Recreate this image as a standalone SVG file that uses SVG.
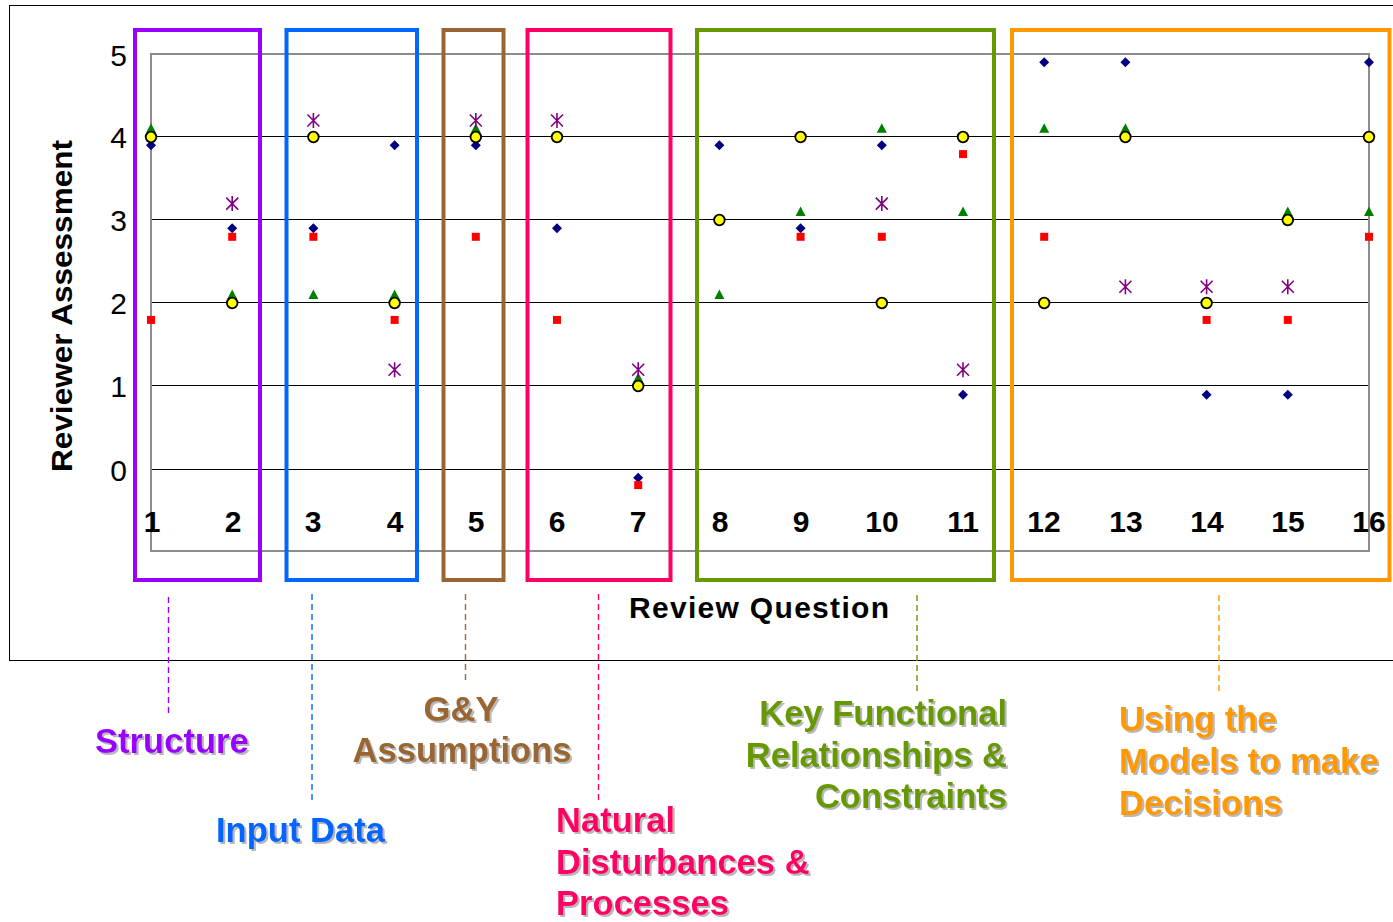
<svg xmlns="http://www.w3.org/2000/svg" xmlns:xlink="http://www.w3.org/1999/xlink" width="1393" height="922" viewBox="0 0 1393 922">
  <style>
    .axis { font-family: "Liberation Sans", Arial, sans-serif; fill: #000; }
    .tick { font-size: 30px; text-anchor: end; }
    .cat { font-size: 30px; font-weight: bold; text-anchor: middle; }
    .title { font-size: 30px; font-weight: bold; }
    .grid { stroke: #000; stroke-width: 1; }
    .plot { fill: none; stroke: #8c8c8c; stroke-width: 2; }
    .box { fill: none; stroke-width: 4; }
    .lead { fill: none; stroke-width: 1.4; stroke-dasharray: 6 4; }
    .lbl { font-family: "Liberation Sans", Arial, sans-serif; font-size: 34.6px; font-weight: bold; filter: url(#shadow); }
    .purple { stroke: #9900ff; fill: #9900ff; }
    .blue { stroke: #0066ff; fill: #0066ff; }
    .brown { stroke: #996633; fill: #996633; }
    .pink { stroke: #ff0066; fill: #ff0066; }
    .green { stroke: #669900; fill: #669900; }
    .orange { stroke: #ff9900; fill: #ff9900; }
    .box.purple, .box.blue, .box.brown, .box.pink, .box.green, .box.orange,
    .lead.purple, .lead.blue, .lead.brown, .lead.pink, .lead.green, .lead.orange { fill: none; }
    text.purple, text.blue, text.brown, text.pink, text.green, text.orange { stroke: none; }
  </style>
  <defs>
    <filter id="shadow" x="-10%" y="-20%" width="130%" height="160%">
      <feDropShadow dx="2" dy="2" stdDeviation="0.7" flood-color="#9a9a9a" flood-opacity="0.7"/>
    </filter>
    <polygon id="dia" points="0,-5 5,0 0,5 -5,0" fill="#000080"/>
    <rect id="sq" x="-4" y="-4" width="8" height="8" fill="#ff0000"/>
    <polygon id="tri" points="0,-5.5 5,4 -5,4" fill="#008000"/>
    <path id="ast" d="M-6,-6 L6,6 M-6,6 L6,-6 M0,-7.5 L0,7.5" stroke="#800080" stroke-width="1.6" fill="none"/>
    <circle id="dot" r="5.3" fill="#ffff00" stroke="#000" stroke-width="1.8"/>
  </defs>

  <rect width="1393" height="922" fill="#fff"/>

  <!-- chart frame -->
  <rect x="9.5" y="5.5" width="1400" height="655" fill="none" stroke="#000" stroke-width="1"/>

  <!-- gridlines and plot border -->
  <g id="grid">
    <line class="grid" x1="151" y1="469.5" x2="1369" y2="469.5"/>
    <line class="grid" x1="151" y1="385.5" x2="1369" y2="385.5"/>
    <line class="grid" x1="151" y1="302.5" x2="1369" y2="302.5"/>
    <line class="grid" x1="151" y1="219.5" x2="1369" y2="219.5"/>
    <line class="grid" x1="151" y1="136.5" x2="1369" y2="136.5"/>
    <rect class="plot" x="151" y="54" width="1218" height="497"/>
  </g>

  <!-- axis labels -->
  <g id="y-axis" class="axis">
    <text class="tick" x="127" y="66">5</text>
    <text class="tick" x="127" y="148">4</text>
    <text class="tick" x="127" y="231">3</text>
    <text class="tick" x="127" y="314">2</text>
    <text class="tick" x="127" y="397">1</text>
    <text class="tick" x="127" y="481">0</text>
    <text class="title" transform="translate(72,306) rotate(-90)" text-anchor="middle" textLength="332" lengthAdjust="spacingAndGlyphs">Reviewer Assessment</text>
  </g>
  <g id="x-axis" class="axis">
    <text class="cat" x="152" y="532">1</text>
    <text class="cat" x="233" y="532">2</text>
    <text class="cat" x="313" y="532">3</text>
    <text class="cat" x="395" y="532">4</text>
    <text class="cat" x="476" y="532">5</text>
    <text class="cat" x="557" y="532">6</text>
    <text class="cat" x="638" y="532">7</text>
    <text class="cat" x="720" y="532">8</text>
    <text class="cat" x="801" y="532">9</text>
    <text class="cat" x="882" y="532">10</text>
    <text class="cat" x="963" y="532">11</text>
    <text class="cat" x="1044" y="532">12</text>
    <text class="cat" x="1126" y="532">13</text>
    <text class="cat" x="1207" y="532">14</text>
    <text class="cat" x="1288" y="532">15</text>
    <text class="cat" x="1369" y="532">16</text>
    <text class="title" x="629" y="618" textLength="260" lengthAdjust="spacing">Review Question</text>
  </g>

  <!-- data series: diamonds, squares, triangles, asterisks, circles -->
  <g id="series-diamond">
    <use href="#dia" x="151" y="145.3"/>
    <use href="#dia" x="232.2" y="228.3"/>
    <use href="#dia" x="313.4" y="228.3"/>
    <use href="#dia" x="394.6" y="145.3"/>
    <use href="#dia" x="475.8" y="145.3"/>
    <use href="#dia" x="557" y="228.3"/>
    <use href="#dia" x="638.2" y="477.8"/>
    <use href="#dia" x="719.4" y="145.3"/>
    <use href="#dia" x="800.6" y="228.3"/>
    <use href="#dia" x="881.8" y="145.3"/>
    <use href="#dia" x="963" y="394.7"/>
    <use href="#dia" x="1044.2" y="62.3"/>
    <use href="#dia" x="1125.4" y="62.3"/>
    <use href="#dia" x="1206.6" y="394.7"/>
    <use href="#dia" x="1287.8" y="394.7"/>
    <use href="#dia" x="1369" y="62.3"/>
  </g>
  <g id="series-square">
    <use href="#sq" x="151" y="319.9"/>
    <use href="#sq" x="232.2" y="236.8"/>
    <use href="#sq" x="313.4" y="236.8"/>
    <use href="#sq" x="394.6" y="319.9"/>
    <use href="#sq" x="475.8" y="236.8"/>
    <use href="#sq" x="557" y="319.9"/>
    <use href="#sq" x="638.2" y="485.1"/>
    <use href="#sq" x="800.6" y="236.8"/>
    <use href="#sq" x="881.8" y="236.8"/>
    <use href="#sq" x="963" y="154.1"/>
    <use href="#sq" x="1044.2" y="236.8"/>
    <use href="#sq" x="1206.6" y="319.9"/>
    <use href="#sq" x="1287.8" y="319.9"/>
    <use href="#sq" x="1369" y="236.8"/>
  </g>
  <g id="series-triangle">
    <use href="#tri" x="151" y="128.8"/>
    <use href="#tri" x="232.2" y="295"/>
    <use href="#tri" x="313.4" y="295"/>
    <use href="#tri" x="394.6" y="295"/>
    <use href="#tri" x="475.8" y="128.8"/>
    <use href="#tri" x="638.2" y="378.1"/>
    <use href="#tri" x="719.4" y="295"/>
    <use href="#tri" x="800.6" y="211.9"/>
    <use href="#tri" x="881.8" y="128.8"/>
    <use href="#tri" x="963" y="211.9"/>
    <use href="#tri" x="1044.2" y="128.8"/>
    <use href="#tri" x="1125.4" y="128.8"/>
    <use href="#tri" x="1287.8" y="211.9"/>
    <use href="#tri" x="1369" y="211.9"/>
  </g>
  <g id="series-asterisk">
    <use href="#ast" x="232.2" y="203.6"/>
    <use href="#ast" x="313.4" y="120.5"/>
    <use href="#ast" x="394.6" y="369.8"/>
    <use href="#ast" x="475.8" y="120.5"/>
    <use href="#ast" x="557" y="120.5"/>
    <use href="#ast" x="638.2" y="369.8"/>
    <use href="#ast" x="881.8" y="203.6"/>
    <use href="#ast" x="963" y="369.8"/>
    <use href="#ast" x="1125.4" y="286.7"/>
    <use href="#ast" x="1206.6" y="286.7"/>
    <use href="#ast" x="1287.8" y="286.7"/>
  </g>
  <g id="series-circle">
    <use href="#dot" x="151" y="137"/>
    <use href="#dot" x="232.2" y="303"/>
    <use href="#dot" x="313.4" y="137"/>
    <use href="#dot" x="394.6" y="303"/>
    <use href="#dot" x="475.8" y="137"/>
    <use href="#dot" x="557" y="137"/>
    <use href="#dot" x="638.2" y="386"/>
    <use href="#dot" x="719.4" y="220"/>
    <use href="#dot" x="800.6" y="137"/>
    <use href="#dot" x="881.8" y="303"/>
    <use href="#dot" x="963" y="137"/>
    <use href="#dot" x="1044.2" y="303"/>
    <use href="#dot" x="1125.4" y="137"/>
    <use href="#dot" x="1206.6" y="303"/>
    <use href="#dot" x="1287.8" y="220"/>
    <use href="#dot" x="1369" y="137"/>
  </g>

  <!-- category group boxes -->
  <g id="group-structure"><rect class="box purple" x="135" y="30" width="125" height="550"/></g>
  <g id="group-input"><rect class="box blue" x="286.5" y="30" width="130.5" height="550"/></g>
  <g id="group-gy"><rect class="box brown" x="443.5" y="30" width="60" height="550"/></g>
  <g id="group-natural"><rect class="box pink" x="527.5" y="30" width="143" height="550"/></g>
  <g id="group-key"><rect class="box green" x="697" y="30" width="297" height="550"/></g>
  <g id="group-using"><rect class="box orange" x="1012" y="30" width="377.5" height="550"/></g>

  <!-- leader lines from boxes to labels -->
  <g id="connectors">
    <line class="lead purple" x1="168.5" y1="597" x2="168.5" y2="714"/>
    <line class="lead blue" x1="312" y1="594" x2="312" y2="802"/>
    <line class="lead brown" x1="465.5" y1="594" x2="465.5" y2="682"/>
    <line class="lead pink" x1="598.5" y1="594" x2="598.5" y2="802"/>
    <line class="lead green" x1="917" y1="595" x2="917" y2="693"/>
    <line class="lead orange" x1="1219" y1="595" x2="1219" y2="693"/>
  </g>

  <!-- group labels -->
  <g id="label-structure"><text class="lbl purple" x="95" y="753">Structure</text></g>
  <g id="label-input"><text class="lbl blue" x="216" y="842">Input Data</text></g>
  <g id="label-gy">
    <text class="lbl brown" text-anchor="middle" x="461" y="721">G&amp;Y</text>
    <text class="lbl brown" text-anchor="middle" x="462" y="762">Assumptions</text>
  </g>
  <g id="label-natural">
    <text class="lbl pink" x="556" y="832">Natural</text>
    <text class="lbl pink" x="556" y="874">Disturbances &amp;</text>
    <text class="lbl pink" x="556" y="915">Processes</text>
  </g>
  <g id="label-key">
    <text class="lbl green" text-anchor="end" x="1007" y="725">Key Functional</text>
    <text class="lbl green" text-anchor="end" x="1007" y="767">Relationships &amp;</text>
    <text class="lbl green" text-anchor="end" x="1007" y="808">Constraints</text>
  </g>
  <g id="label-using">
    <text class="lbl orange" x="1119" y="731">Using the</text>
    <text class="lbl orange" x="1119" y="773">Models to make</text>
    <text class="lbl orange" x="1119" y="815">Decisions</text>
  </g>
</svg>
